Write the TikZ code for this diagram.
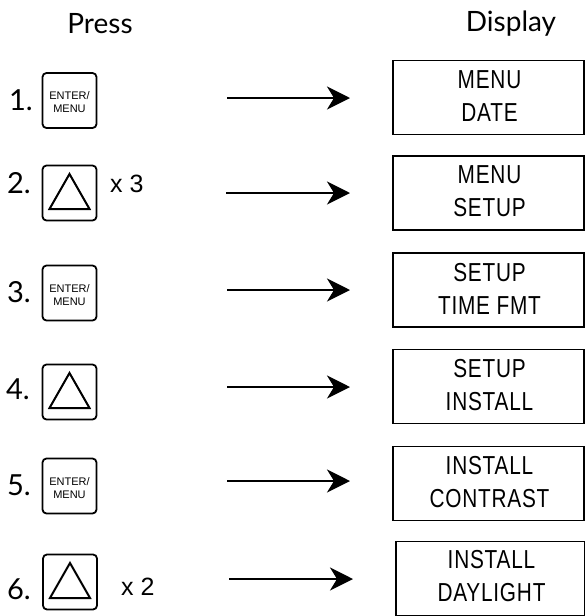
\documentclass[tikz,border=0pt]{standalone}
\usepackage{fontspec}
\setmainfont{Lato}
\newfontfamily\arialf{Liberation Sans}
\newfontfamily\dispf[FakeStretch=0.8,LetterSpace=3]{Liberation Sans}
\usetikzlibrary{arrows.meta,calc}
\begin{document}
\begin{tikzpicture}[x=1pt,y=-1pt,
  key/.style={draw,line width=1.8pt,rounded corners=4pt,minimum width=54pt,minimum height=55pt,inner sep=0pt},
  keytxt/.style={align=center,inner sep=0pt,font=\arialf\fontsize{11}{13.5}\selectfont},
  disp/.style={draw,line width=1.6pt,minimum width=191pt,minimum height=74pt,inner sep=0pt},
  disptxt/.style={align=center,inner sep=0pt,font=\dispf\fontsize{26}{33}\selectfont},
  num/.style={anchor=base,inner sep=0pt,font=\fontsize{29}{29}\selectfont},
  times/.style={anchor=base west,inner sep=0pt,font=\arialf\fontsize{25}{25}\selectfont},
  title/.style={anchor=base,inner sep=0pt,font=\fontsize{28}{28}\selectfont},
  arr/.style={line width=2pt,-{Stealth[length=23pt,width=23pt,inset=7pt]}},
  tri/.style={line width=2pt,line join=miter}
]
\fill[white] (0,0) rectangle (585,616);
\useasboundingbox (0,0) rectangle (585,616);

\node[title] (tpress) at (100,33) {Press};
\node[title] (tdisp) at (511,31) {Display};

% Row 1
\node[num] (n1) at (21,110) {1.};
\node[key] (k1) at (69.5,100.5) {};
\node[keytxt] (k1t) at (69.5,102) {ENTER/\\MENU};
\coordinate (a1s) at (227,98);
\coordinate (a1e) at (350,98);
\draw[arr] (a1s) -- (a1e);
\node[disp] (d1) at (488.5,97.5) {};
\node[disptxt] (d1t) at (489.5,96) {MENU\\DATE};

% Row 2
\node[num] (n2) at (19,193) {2.};
\node[key] (k2) at (69.5,193) {};
\draw[tri] ($(k2.center)+(0,-19)$) -- ($(k2.center)+(20,16)$) -- ($(k2.center)+(-20,16)$) -- cycle;
\node[times] (x3) at (110,192) {x 3};
\coordinate (a2s) at (226,193);
\coordinate (a2e) at (350,193);
\draw[arr] (a2s) -- (a2e);
\node[disp] (d2) at (488.5,193) {};
\node[disptxt] (d2t) at (489.5,191.5) {MENU\\SETUP};

% Row 3
\node[num] (n3) at (19,302) {3.};
\node[key] (k3) at (69.5,293) {};
\node[keytxt] (k3t) at (69.5,295) {ENTER/\\MENU};
\coordinate (a3s) at (227,290);
\coordinate (a3e) at (350,290);
\draw[arr] (a3s) -- (a3e);
\node[disp] (d3) at (488.5,290) {};
\node[disptxt] (d3t) at (489.5,288.5) {SETUP\\TIME FMT};

% Row 4
\node[num] (n4) at (18,399) {4.};
\node[key] (k4) at (69.5,392) {};
\draw[tri] ($(k4.center)+(0,-19)$) -- ($(k4.center)+(20,16)$) -- ($(k4.center)+(-20,16)$) -- cycle;
\coordinate (a4s) at (227,387);
\coordinate (a4e) at (350,387);
\draw[arr] (a4s) -- (a4e);
\node[disp] (d4) at (488.5,386.5) {};
\node[disptxt] (d4t) at (489.5,385) {SETUP\\INSTALL};

% Row 5
\node[num] (n5) at (19,495) {5.};
\node[key] (k5) at (69.5,486) {};
\node[keytxt] (k5t) at (69.5,488) {ENTER/\\MENU};
\coordinate (a5s) at (227,481);
\coordinate (a5e) at (350,481);
\draw[arr] (a5s) -- (a5e);
\node[disp] (d5) at (488.5,483.5) {};
\node[disptxt] (d5t) at (489.5,482) {INSTALL\\CONTRAST};

% Row 6
\node[num] (n6) at (19,599) {6.};
\node[key] (k6) at (70,582) {};
\draw[tri] ($(k6.center)+(0,-19)$) -- ($(k6.center)+(20,16)$) -- ($(k6.center)+(-20,16)$) -- cycle;
\node[times] (x2) at (121,595) {x 2};
\coordinate (a6s) at (229,579);
\coordinate (a6e) at (353,579);
\draw[arr] (a6s) -- (a6e);
\node[disp,minimum width=189pt] (d6) at (490.5,578.5) {};
\node[disptxt] (d6t) at (491.5,576) {INSTALL\\DAYLIGHT};
\end{tikzpicture}
\end{document}
